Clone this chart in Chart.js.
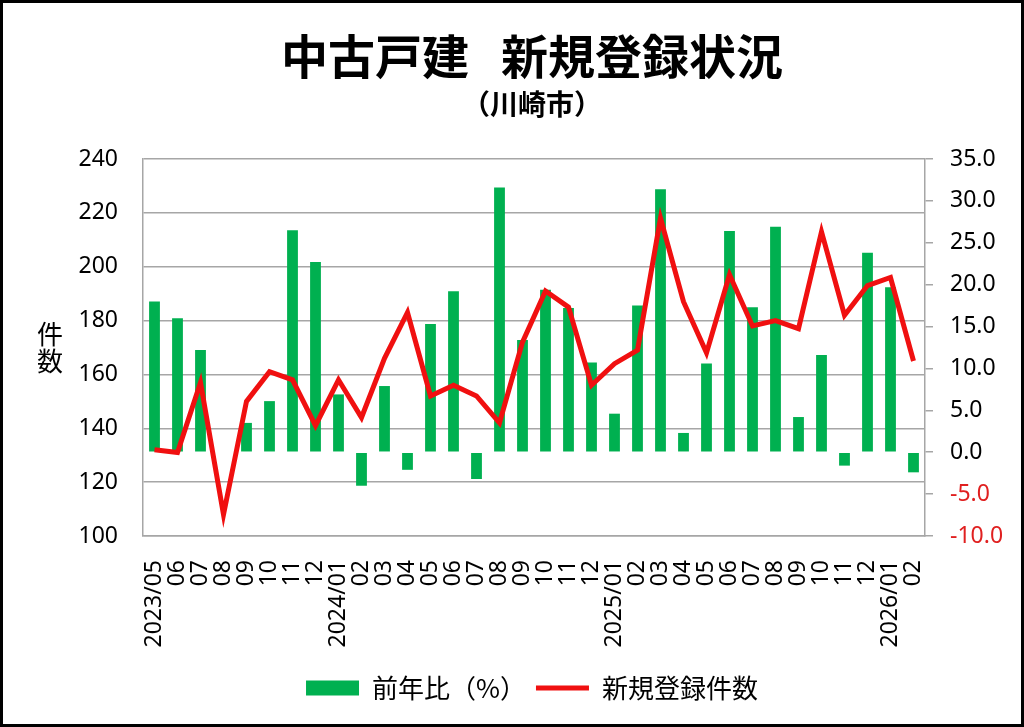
<!DOCTYPE html>
<html lang="ja">
<head>
  <meta charset="UTF-8">
  <title>中古戸建 新規登録状況</title>
  <script src="https://cdn.jsdelivr.net/npm/chart.js"></script>
  <style>
    body { margin: 0; background: #fff; }
    .frame {
      position: absolute; left: 0; top: 0;
      width: 1024px; height: 727px;
      box-sizing: border-box;
      border: 3px solid #000;
    }
    #chart { position: absolute; left: 0; top: 0; }
  </style>
</head>
<body>
<div class="frame"></div>
<canvas id="chart" width="1024" height="727"></canvas>

<script>
  // months (x axis)
  var months = ['2023/05', '06', '07', '08', '09', '10', '11', '12',
    '2024/01', '02', '03', '04', '05', '06', '07', '08', '09', '10', '11', '12',
    '2025/01', '02', '03', '04', '05', '06', '07', '08', '09', '10', '11', '12',
    '2026/01', '02'];

  // 前年比(%) - bars, right axis
  var yoy = [18.0, 16.0, 12.2, 0, 3.5, 6.1, 26.5, 22.7,
    6.9, -4.0, 7.9, -2.1, 15.3, 19.2, -3.2, 31.6, 13.4, 19.4, 17.2, 10.7,
    4.6, 17.5, 31.4, 2.3, 10.6, 26.4, 17.3, 26.9, 4.2, 11.6, -1.6, 23.8,
    19.7, -2.4];

  // 新規登録件数 - line, left axis
  var listings = [132, 131, 157, 108, 150, 161, 158, 141,
    158, 144, 166, 183, 152, 156, 152, 142, 172, 191, 185, 156,
    164, 169, 218, 187, 168, 197, 178, 180, 177, 213, 182, 193,
    196, 165];

  var FONT = "'Noto Sans', 'Noto Sans CJK JP', sans-serif";
  var JP = "'Noto Sans CJK JP', sans-serif";
  var GRID = '#a6a6a6';

  // vertical "件数" beside the left axis
  var sideTitle = {
    id: 'sideTitle',
    afterDraw: function(chart) {
      var ctx = chart.ctx, a = chart.chartArea;
      var cy = (a.top + a.bottom) / 2;
      ctx.save();
      ctx.font = '26px ' + JP;
      ctx.fillStyle = '#000';
      ctx.textAlign = 'center';
      ctx.textBaseline = 'middle';
      ctx.fillText('件', 50, cy - 13);
      ctx.fillText('数', 50, cy + 14);
      ctx.restore();
    }
  };

  new Chart(document.getElementById('chart'), {
    data: {
      labels: months,
      datasets: [{
        type: 'bar',
        label: '前年比（%）',
        data: yoy,
        yAxisID: 'y1',
        backgroundColor: '#00b050',
        borderWidth: 0,
        barPercentage: 0.47,
        categoryPercentage: 1,
        pointStyle: 'rect',
        order: 1
      }, {
        type: 'line',
        label: '新規登録件数',
        data: listings,
        yAxisID: 'y',
        borderColor: '#f01010',
        backgroundColor: '#f01010',
        borderWidth: 5,
        pointRadius: 0,
        pointStyle: 'line',
        tension: 0,
        order: 0
      }]
    },
    options: {
      responsive: false,
      devicePixelRatio: 1,
      animation: false,
      layout: { padding: { left: 60, right: 20, top: 0, bottom: 16 } },
      plugins: {
        title: {
          display: true,
          text: '中古戸建   新規登録状況',
          color: '#000',
          font: { family: JP, size: 47, weight: 'bold' },
          padding: { top: 28, bottom: 0 }
        },
        subtitle: {
          display: true,
          text: '（川崎市）',
          color: '#000',
          font: { family: JP, size: 28, weight: 'bold' },
          padding: { top: 3, bottom: 38 }
        },
        legend: {
          position: 'bottom',
          labels: {
            color: '#000',
            font: { family: JP, size: 26 },
            usePointStyle: true,
            pointStyleWidth: 53,
            boxHeight: 15,
            padding: 10,
            sort: function(a, b) { return a.datasetIndex - b.datasetIndex; }
          }
        },
        tooltip: { enabled: false }
      },
      scales: {
        x: {
          grid: { display: false },
          border: { display: true, color: GRID, width: 1.5 },
          ticks: {
            color: '#000',
            font: { family: FONT, size: 23 },
            minRotation: 90,
            maxRotation: 90,
            autoSkip: false,
            padding: 16
          },
          afterFit: function(s) { s.height = 129; }
        },
        y: {
          position: 'left',
          min: 100,
          max: 240,
          grid: { color: GRID, lineWidth: 1.5, drawTicks: false },
          border: { display: true, color: GRID, width: 1.5 },
          ticks: {
            stepSize: 20,
            color: '#000',
            font: { family: FONT, size: 23 },
            padding: 25
          },
          afterFit: function(s) { s.width = 83; }
        },
        y1: {
          position: 'right',
          min: -10,
          max: 35,
          grid: { drawOnChartArea: false, color: GRID, lineWidth: 1.5, tickLength: 8 },
          border: { display: true, color: GRID, width: 1.5 },
          ticks: {
            stepSize: 5,
            font: { family: FONT, size: 23 },
            padding: 17,
            color: function(c) { return c.tick && c.tick.value < 0 ? '#e02020' : '#000'; },
            callback: function(v) { return v.toFixed(1); }
          },
          afterFit: function(s) { s.width = 79; }
        }
      }
    },
    plugins: [sideTitle]
  });
</script>
</body>
</html>
